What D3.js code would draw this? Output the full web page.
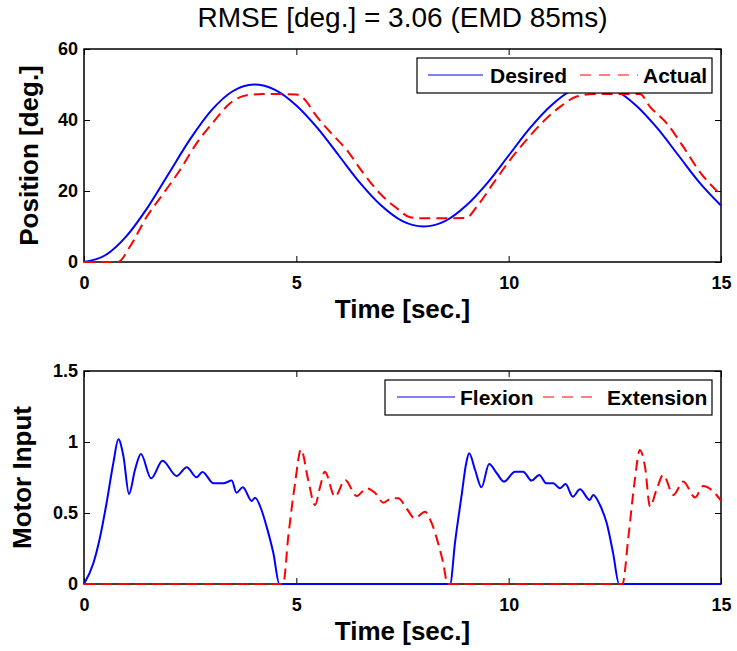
<!DOCTYPE html>
<html>
<head>
<meta charset="utf-8">
<script src="https://cdn.jsdelivr.net/npm/d3@7"></script>
<style>
  body { margin: 0; background: #fff; }
  text { font-family: "Liberation Sans", Arial, Helvetica, sans-serif; fill: #000; }
</style>
</head>
<body>
<div id="chart"></div>
<script>
const width = 737;
const height = 651;

// top panel: position [deg.]
const desiredT = [0, 0.5, 1, 1.5, 2, 2.5, 3, 3.5, 4, 4.5, 5, 5.5, 6, 6.5, 7, 7.5, 8,
    8.5, 9, 9.5, 10, 10.5, 11, 11.5, 12, 12.5, 13, 13.5, 14, 14.5, 15];
const desiredV = [0, 1.9, 7.3, 15.4, 25, 34.6, 42.7, 48.1, 50, 48.5, 44.1, 37.7, 30, 22.3, 15.9, 11.5, 10,
    11.5, 15.9, 22.3, 30, 37.7, 44.1, 48.5, 50, 48.5, 44.1, 37.7, 30, 22.3, 15.9];
const actualT = [0, 0.8, 1.08, 1.48, 1.87, 2.26, 2.65, 3.05, 3.44, 3.83, 4.2, 4.6, 5.0, 5.24, 5.4, 5.79,
    6.19, 6.58, 6.97, 7.36, 7.68, 8.0, 8.5, 9.0, 9.25, 9.64, 10.03, 10.42, 10.81, 11.21, 11.6, 12.0,
    12.5, 13.09, 13.33, 13.72, 14.11, 14.5, 15];
const actualV = [0, 0, 4.3, 12.8, 19.3, 25.9, 33.4, 39.5, 44.7, 47.0, 47.3, 47.3, 47.2, 45.2, 42.3, 36.7,
    31.5, 25.0, 19.3, 15.2, 12.6, 12.3, 12.3, 12.4, 15.6, 22.2, 28.7, 34.4, 39.5, 43.7, 46.6, 47.3,
    47.3, 47.3, 43.7, 39.1, 32.5, 25.4, 18.9];

// bottom panel: motor input
const flexT = [0, 0.22, 0.38, 0.53, 0.69, 0.81, 0.93, 1.06, 1.2, 1.34, 1.58, 1.85, 2.18, 2.42, 2.65, 2.79,
    3.05, 3.28, 3.48, 3.59, 3.74, 3.95, 4.03, 4.18, 4.3, 4.46, 4.6, 8.62, 8.74, 8.89, 9.0, 9.07, 9.21,
    9.36, 9.54, 9.72, 9.89, 10.15, 10.34, 10.54, 10.72, 10.89, 11.05, 11.21, 11.34, 11.51, 11.68,
    11.91, 11.99, 12.15, 12.31, 12.46, 12.6, 15];
const flexV = [0, 0.146, 0.333, 0.568, 0.85, 1.019, 0.897, 0.634, 0.803, 0.915, 0.744, 0.868, 0.761, 0.822, 0.751, 0.789,
    0.709, 0.709, 0.728, 0.643, 0.681, 0.585, 0.608, 0.521, 0.404, 0.216, 0, 0, 0.30, 0.62, 0.85, 0.92, 0.803,
    0.681, 0.845, 0.78, 0.721, 0.791, 0.791, 0.728, 0.768, 0.709, 0.709, 0.674, 0.704, 0.615, 0.667,
    0.592, 0.627, 0.556, 0.427, 0.216, 0, 0];
const extT = [0, 4.69, 4.81, 4.97, 5.11, 5.28, 5.44, 5.56, 5.67, 5.91, 6.15, 6.42, 6.66, 6.85, 7.05, 7.24,
    7.4, 7.6, 7.79, 8.03, 8.19, 8.34, 8.46, 8.56, 12.68, 12.82, 12.97, 13.09, 13.21, 13.33, 13.48,
    13.64, 13.88, 14.11, 14.39, 14.58, 14.78, 15];
const extV = [0, 0, 0.333, 0.709, 0.948, 0.732, 0.556, 0.685, 0.791, 0.615, 0.732, 0.62, 0.674, 0.643, 0.573, 0.603,
    0.603, 0.53, 0.462, 0.509, 0.427, 0.286, 0.146, 0, 0, 0.333, 0.732, 0.944, 0.826, 0.545, 0.662,
    0.768, 0.627, 0.721, 0.61, 0.69, 0.662, 0.587];

const xTicks = [0, 5, 10, 15];
const posTicks = [0, 20, 40, 60];
const motorTicks = [0, 0.5, 1, 1.5];

const svg = d3.select("#chart").append("svg")
    .attr("width", width)
    .attr("height", height);

const left = 84, right = 721;
const x = d3.scaleLinear().domain([0, 15]).range([left, right]);

function panel(top, bottom, yDomain, yTicks, yFmt, series, legendBox, yLabel, labelX) {
    const y = d3.scaleLinear().domain(yDomain).range([bottom, top]);
    const g = svg.append("g");

    // axes with inward ticks on all four sides
    g.append("g").attr("transform", `translate(0,${bottom})`)
        .call(d3.axisBottom(x).tickValues(xTicks).tickSize(-6).tickPadding(14).tickFormat(d3.format("d")));
    g.append("g").attr("transform", `translate(0,${top})`)
        .call(d3.axisTop(x).tickValues(xTicks).tickSize(-6).tickFormat(""));
    g.append("g").attr("transform", `translate(${left},0)`)
        .call(d3.axisLeft(y).tickValues(yTicks).tickSize(-6).tickPadding(6).tickFormat(yFmt));
    g.append("g").attr("transform", `translate(${right},0)`)
        .call(d3.axisRight(y).tickValues(yTicks).tickSize(-6).tickFormat(""));
    g.selectAll(".domain").remove();
    g.selectAll(".tick line").attr("stroke", "#000").attr("stroke-width", 1);
    g.selectAll(".tick text")
        .style("font-size", "18px").style("font-weight", "bold").attr("fill", "#000");

    g.append("rect")
        .attr("x", left).attr("y", top)
        .attr("width", right - left).attr("height", bottom - top)
        .attr("fill", "none").attr("stroke", "#000").attr("stroke-width", 1.5);

    const line = d3.line()
        .x(d => x(d[0]))
        .y(d => y(d[1]))
        .curve(d3.curveMonotoneX);

    series.forEach(s => {
        g.append("path")
            .datum(d3.zip(s.t, s.v))
            .attr("d", line)
            .attr("fill", "none")
            .attr("stroke", s.color)
            .attr("stroke-width", 2)
            .attr("stroke-dasharray", s.dash ? "11,6" : null);
    });

    // legend
    const lg = g.append("g");
    lg.append("rect")
        .attr("x", legendBox.x).attr("y", legendBox.y)
        .attr("width", legendBox.w).attr("height", 35)
        .attr("fill", "#fff").attr("stroke", "#000").attr("stroke-width", 1.2);
    series.forEach((s, i) => {
        const it = legendBox.items[i];
        lg.append("line")
            .attr("x1", it.x1).attr("x2", it.x2)
            .attr("y1", legendBox.y + 17).attr("y2", legendBox.y + 17)
            .attr("stroke", s.color).attr("stroke-width", 1)
            .attr("stroke-dasharray", s.dash ? "11,8" : null);
        lg.append("text")
            .attr("x", it.tx).attr("y", legendBox.y + 25)
            .style("font-size", "21px").style("font-weight", "bold")
            .text(s.name);
    });

    // axis labels
    g.append("text")
        .attr("x", (left + right) / 2).attr("y", bottom + 56)
        .attr("text-anchor", "middle")
        .style("font-size", "26px").style("font-weight", "bold")
        .text("Time [sec.]");
    g.append("text")
        .attr("transform", `translate(${labelX},${(top + bottom) / 2}) rotate(-90)`)
        .attr("text-anchor", "middle")
        .style("font-size", "26px").style("font-weight", "bold")
        .text(yLabel);
}

panel(49, 262, [0, 60], posTicks, d3.format("d"), [
    { name: "Desired", t: desiredT, v: desiredV, color: "#0000ff", dash: false },
    { name: "Actual", t: actualT, v: actualV, color: "#ff0000", dash: true }
], { x: 417, y: 58, w: 295, items: [{ x1: 428, x2: 483, tx: 490 }, { x1: 580, x2: 638, tx: 643 }] },
   "Position [deg.]", 38);

panel(371, 584, [0, 1.5], motorTicks, d => d === 0 ? "0" : d3.format("")(d), [
    { name: "Flexion", t: flexT, v: flexV, color: "#0000ff", dash: false },
    { name: "Extension", t: extT, v: extV, color: "#ff0000", dash: true }
], { x: 385, y: 380, w: 327, items: [{ x1: 397, x2: 455, tx: 460 }, { x1: 543, x2: 600, tx: 607 }] },
   "Motor Input", 31);

svg.append("text")
    .attr("x", (left + right) / 2).attr("y", 27)
    .attr("text-anchor", "middle")
    .style("font-size", "28px")
    .text("RMSE [deg.] = 3.06 (EMD 85ms)");
</script>
</body>
</html>
